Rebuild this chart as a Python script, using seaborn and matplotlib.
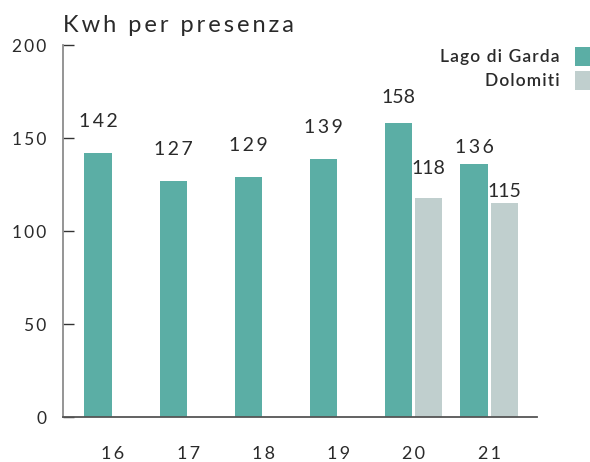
import numpy as np
import pandas as pd
import matplotlib
matplotlib.use("Agg")
import matplotlib.pyplot as plt
import matplotlib.patches as mpatches
import seaborn as sns

# Consumption per guest presence (kWh), by year
years = ["16", "17", "18", "19", "20", "21"]
series = ["Lago di Garda", "Dolomiti"]
garda = [142, 127, 129, 139, 158, 136]
dolomiti = [np.nan, np.nan, np.nan, np.nan, 118, 115]
y_ticks = [0, 50, 100, 150, 200]
title = "Kwh per presenza"

colors = ["#5BAEA5", "#C0CFCE"]
text_color = "#2A2A2A"

# vertical gap (pixels) between each bar top and its value label
garda_label_gap = [26, 26, 26, 26, 20, 11]
dolomiti_label_gap = [24, 6]
# which value labels get wider letter spacing
garda_tracked = [True, True, True, True, False, True]
dolomiti_tracked = [False, False]

df = pd.DataFrame({
    "anno": years * 2,
    "serie": [series[0]] * len(years) + [series[1]] * len(years),
    "kwh": garda + dolomiti,
})

sns.set_theme(style="white")
plt.rcParams["font.family"] = ["Lato", "DejaVu Sans"]
plt.rcParams["font.weight"] = "normal"


def spaced(s, sep="\u2009"):
    return sep.join(s)


fig = plt.figure(figsize=(5.9, 4.62), dpi=100)
ax = fig.add_axes([62.7 / 590, 1 - 417.3 / 462, (536.7 - 62.7) / 590, (417.3 - 45) / 462])

sns.barplot(data=df, x="anno", y="kwh", hue="serie", hue_order=series,
            palette=colors, saturation=1, width=0.8, gap=0.1, dodge=True,
            linewidth=0, legend=False, ax=ax)

ax.set_xlim(-0.669, 5.634)
ax.set_ylim(0, 200)
ax.set_xlabel("")
ax.set_ylabel("")

ax.set_yticks(y_ticks)
ax.set_yticklabels([spaced(str(t)) for t in y_ticks])
ax.set_xticks(range(len(years)))
ax.set_xticklabels([spaced(y) for y in years])

for side in ["top", "right"]:
    ax.spines[side].set_visible(False)
ax.spines["left"].set_color("#8C8C8C")
ax.spines["left"].set_linewidth(1.3)
ax.spines["bottom"].set_color("#555555")
ax.spines["bottom"].set_linewidth(1.3)

ax.tick_params(axis="y", direction="in", length=7.9, width=1.0, color="#333333",
               pad=11.5, labelsize=12.5, labelcolor=text_color, left=True)
ax.tick_params(axis="x", length=0, pad=20.5, labelsize=13, labelcolor=text_color)

# value labels above the bars
for container, gaps, tracked in zip(ax.containers,
                                    [garda_label_gap, dolomiti_label_gap],
                                    [garda_tracked, dolomiti_tracked]):
    bars = [b for b in container if np.isfinite(b.get_height()) and b.get_height() > 0]
    for bar, gap, tr in zip(bars, gaps, tracked):
        h = bar.get_height()
        txt = f"{h:.0f}"
        if tr:
            txt = spaced(txt)
        ax.annotate(txt, (bar.get_x() + bar.get_width() / 2, h),
                    xytext=(0, gap), textcoords="offset pixels",
                    ha="center", va="baseline", fontsize=14, color=text_color)

fig.text(62.7 / 590, 1 - 32 / 462, spaced(title, "\u2009"), fontsize=17,
         color=text_color, ha="left", va="baseline")

handles = [mpatches.Patch(facecolor=c, edgecolor="none") for c in colors]
fig.legend(handles, [spaced(s, "\u200a") for s in series], loc="upper right",
           bbox_to_anchor=(1.0, 1 - 47 / 462),
           frameon=False, markerfirst=False, borderpad=0, borderaxespad=0,
           handlelength=0.88, handleheight=1.3, handletextpad=0.86,
           labelspacing=0.3, prop={"size": 12.5, "weight": "semibold"},
           labelcolor=text_color)

fig.savefig("out.png", dpi=100)
